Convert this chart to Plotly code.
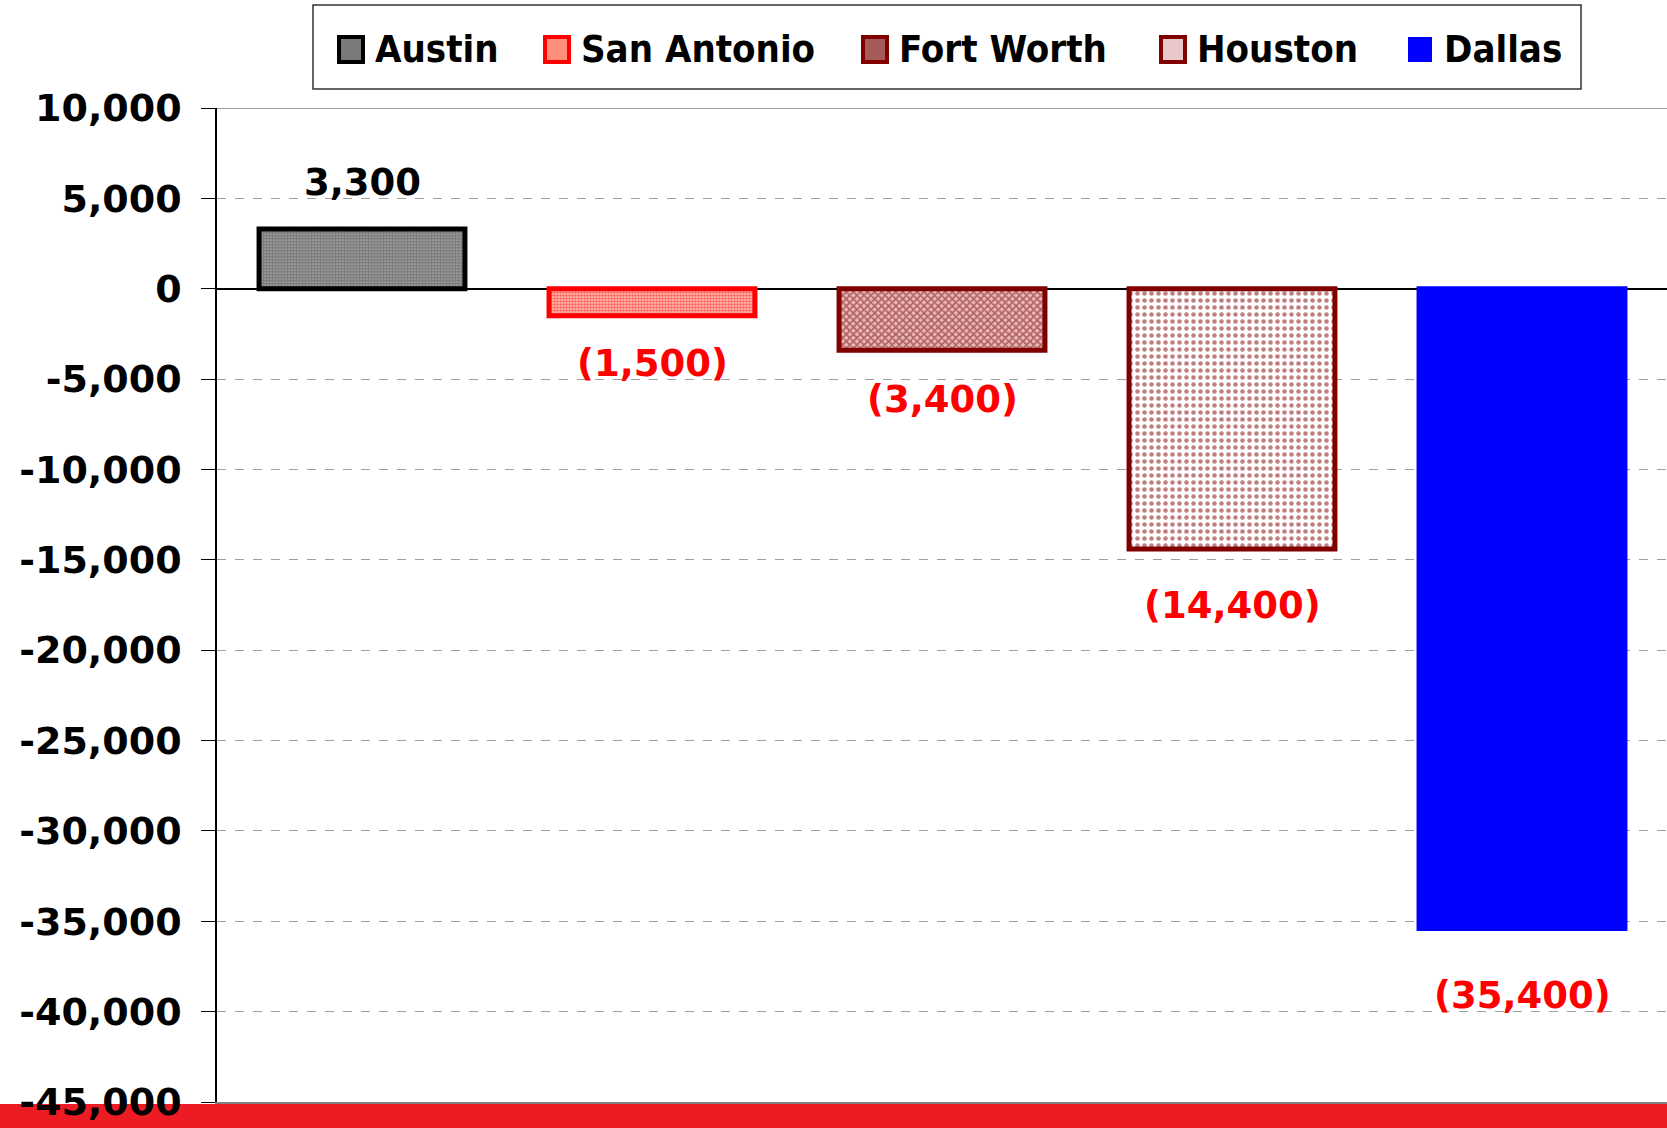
import plotly.graph_objects as go

cities = ["Austin", "San Antonio", "Fort Worth", "Houston", "Dallas"]
changes = [3300, -1500, -3400, -14400, -35400]
value_labels = ["3,300", "(1,500)", "(3,400)", "(14,400)", "(35,400)"]
y_ticks = [10000, 5000, 0, -5000, -10000, -15000, -20000, -25000, -30000, -35000, -40000, -45000]
y_tick_labels = ["10,000", "5,000", "0", "-5,000", "-10,000", "-15,000", "-20,000",
                 "-25,000", "-30,000", "-35,000", "-40,000", "-45,000"]

styles = [
    dict(line="#000000", lw=5, swatch="#7A7A7A", lbl_shift=23,
         pat=dict(shape=".", fgcolor="#000000", bgcolor="#ffffff", size=3, solidity=0.85)),
    dict(line="#FF0000", lw=5, swatch="#FF8F7A", lbl_shift=-24,
         pat=dict(shape=".", fgcolor="#FF0000", bgcolor="#FFC8BC", size=3, solidity=0.6)),
    dict(line="#800000", lw=5, swatch="#A65A5A", lbl_shift=-26,
         pat=dict(shape="x", fgcolor="#800000", bgcolor="#E6BABA", size=5, solidity=0.55)),
    dict(line="#800000", lw=5, swatch="#E8C8C8", lbl_shift=-33,
         pat=dict(shape=".", fgcolor="#800000", bgcolor="#ffffff", size=7, solidity=0.33)),
    dict(line="#0000FF", lw=5, swatch="#0000FF", lbl_shift=-43, pat=None),
]

W, H = 1667, 1128
ML, MR, MT, MB = 217, 0, 108, 1128 - 1102
PW = W - ML - MR
PH = H - MT - MB


def px_x(p):
    return (p - ML) / PW


def px_y(p):
    return (H - MB - p) / PH


fig = go.Figure()
for c, v, s in zip(cities, changes, styles):
    marker = dict(color="#0000FF" if s["pat"] is None else "#ffffff",
                  line=dict(color=s["line"], width=s["lw"]))
    if s["pat"] is not None:
        marker["pattern"] = s["pat"]
    fig.add_trace(go.Bar(x=[c], y=[v], name=c, marker=marker, showlegend=False))

annotations = []
for c, v, t, s in zip(cities, changes, value_labels, styles):
    neg = v < 0
    annotations.append(dict(
        x=c, y=v, xref="x", yref="y", text=t, showarrow=False,
        yanchor="top" if neg else "bottom", yshift=s["lbl_shift"],
        font=dict(family="DejaVu Sans", size=37, color="#FF0000" if neg else "#000000", weight="bold"),
    ))

shapes = [
    # red strip at the bottom of the page
    dict(type="rect", xref="paper", yref="paper", x0=px_x(0), x1=px_x(W),
         y0=px_y(H + 2), y1=px_y(1104), fillcolor="#ED1C24", line=dict(width=0), layer="below"),
    # top border line of plot
    dict(type="line", xref="paper", yref="y", x0=0, x1=1, y0=10000, y1=10000,
         line=dict(color="#808080", width=1.5)),
    # legend box
    dict(type="rect", xref="paper", yref="paper", x0=px_x(313), x1=px_x(1581),
         y0=px_y(89), y1=px_y(5), fillcolor="#ffffff", line=dict(color="#333333", width=1.5)),
]

# custom legend (swatch + label)
legend_symbol_left = [337, 543, 861, 1159, 1406]
for name, s, lx in zip(cities, styles, legend_symbol_left):
    is_solid = s["pat"] is None
    shapes.append(dict(type="rect", xref="paper", yref="paper",
                       x0=px_x(lx + 2), x1=px_x(lx + 26), y0=px_y(62), y1=px_y(37),
                       fillcolor=s["swatch"],
                       line=dict(color=s["line"], width=0 if is_solid else 4)))
    annotations.append(dict(x=px_x(lx + 36), y=px_y(49), xref="paper", yref="paper",
                            xanchor="left", yanchor="middle", text=name, showarrow=False,
                            font=dict(family="DejaVu Sans Condensed", size=38,
                                      color="#000000", weight="bold")))

fig.update_layout(
    width=W, height=H,
    margin=dict(l=ML, r=MR, t=MT, b=MB, pad=0, autoexpand=False),
    paper_bgcolor="#ffffff", plot_bgcolor="#ffffff",
    barmode="overlay", bargap=0.29,
    showlegend=False,
    annotations=annotations, shapes=shapes,
    font=dict(family="DejaVu Sans", color="#000000"),
)
fig.update_xaxes(showticklabels=False, showgrid=False, ticks="",
                 showline=True, linecolor="#808080", linewidth=2,
                 categoryorder="array", categoryarray=cities, automargin=False)
fig.update_yaxes(range=[-45000, 10000], tickvals=y_ticks, ticktext=y_tick_labels,
                 ticks="outside", ticklen=14, tickcolor="#000000", tickwidth=1,
                 ticklabelstandoff=12, automargin=False,
                 tickfont=dict(family="DejaVu Sans", size=38, color="#000000", weight="bold"),
                 showline=True, linecolor="#000000", linewidth=1.5,
                 showgrid=True, gridcolor="#A0A0A0", griddash="dash", gridwidth=1,
                 zeroline=True, zerolinecolor="#000000", zerolinewidth=1.5)

fig.write_html("out.html", config={"displayModeBar": False},
               post_script="document.body.style.margin='0';document.body.style.overflow='hidden';")
